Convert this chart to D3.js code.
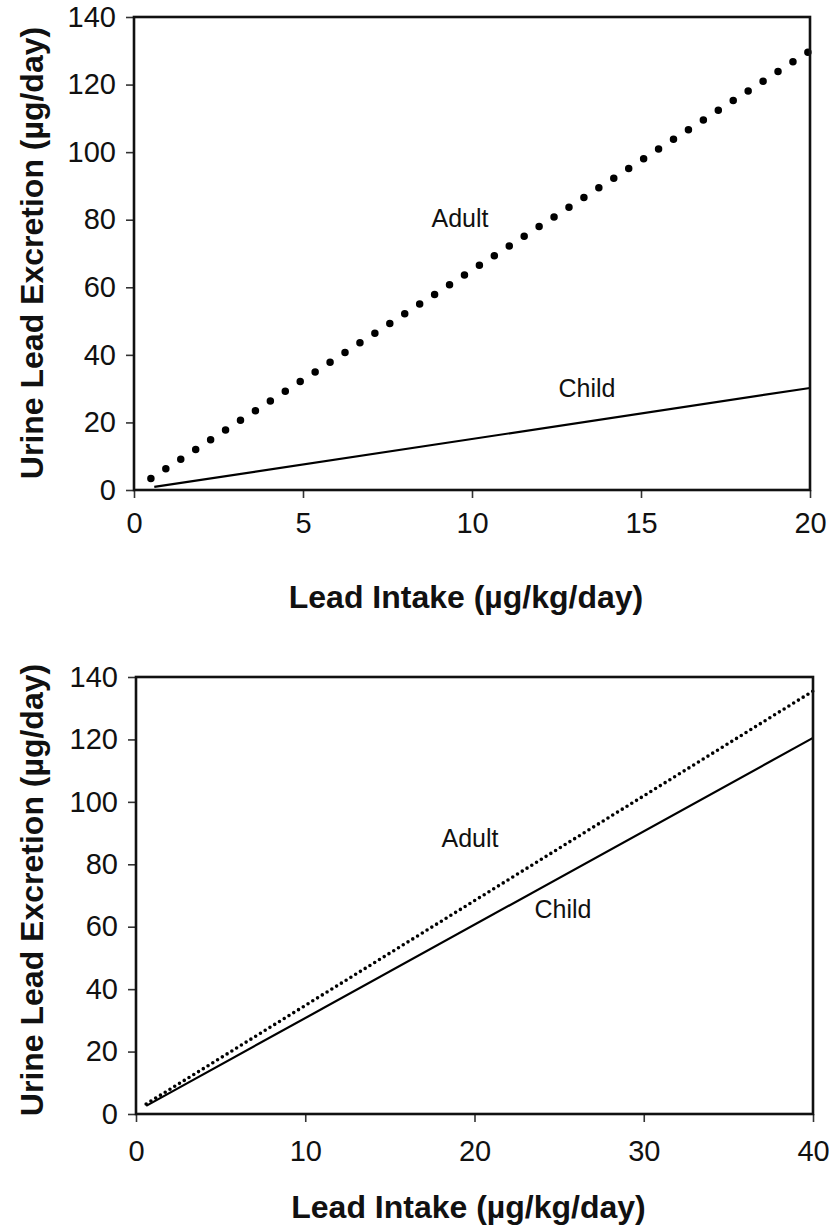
<!DOCTYPE html>
<html>
<head>
<meta charset="utf-8">
<script src="https://cdn.jsdelivr.net/npm/d3@7"></script>
<style>
  html, body { margin: 0; padding: 0; background: #ffffff; }
  svg { display: block; }
  text { font-family: "Liberation Sans", Arial, sans-serif; fill: #111; }
</style>
</head>
<body>
<script>
// ---------- data ----------
const xTitle = "Lead Intake (µg/kg/day)";
const yTitle = "Urine Lead Excretion (µg/day)";
const yTicks = [0, 20, 40, 60, 80, 100, 120, 140];

// top panel
const topXTicks = [0, 5, 10, 15, 20];
const topAdultIntake = [0.5, 20];
const topAdultUrine = [3.4, 130];
const topChildIntake = [0.6, 20];
const topChildUrine = [0.9, 30.2];

// bottom panel
const botXTicks = [0, 10, 20, 30, 40];
const botAdultIntake = [0.6, 40];
const botAdultUrine = [3.2, 135.5];
const botChildIntake = [0.6, 40];
const botChildUrine = [2.6, 120.5];

const labels = ["Adult", "Child"];

// ---------- drawing ----------
const W = 829, H = 1232;
const svg = d3.select("body").append("svg").attr("width", W).attr("height", H);
svg.append("rect").attr("width", W).attr("height", H).attr("fill", "#ffffff");

function panel(cfg) {
  const x = d3.scaleLinear().domain([0, d3.max(cfg.xTicks)]).range([cfg.left, cfg.right]);
  const y = d3.scaleLinear().domain([0, 140]).range([cfg.bottom, cfg.top]);
  const g = svg.append("g");

  // axes
  const ax = g.append("g").attr("transform", `translate(0,${cfg.bottom})`)
    .call(d3.axisBottom(x).tickValues(cfg.xTicks).tickSize(8).tickPadding(cfg.xPad).tickFormat(d3.format("d")));
  const ay = g.append("g").attr("transform", `translate(${cfg.left},0)`)
    .call(d3.axisLeft(y).tickValues(yTicks).tickSize(8).tickPadding(10).tickFormat(d3.format("d")));
  [ax, ay].forEach(a => {
    a.select(".domain").remove();
    a.selectAll(".tick line").attr("stroke", "#333").attr("stroke-width", 1.6);
    a.selectAll(".tick text").attr("font-size", 29).attr("fill", "#111")
      .style("font-family", '"Liberation Sans", Arial, sans-serif');
  });

  // lines
  const line = d3.line().x(d => x(d[0])).y(d => y(d[1]));
  const adult = d3.zip(cfg.adultX, cfg.adultY);
  const child = d3.zip(cfg.childX, cfg.childY);
  g.append("path").attr("d", line(child)).attr("fill", "none")
    .attr("stroke", "#000").attr("stroke-width", cfg.childW);
  g.append("path").attr("d", line(adult)).attr("fill", "none")
    .attr("stroke", "#000").attr("stroke-width", cfg.dotW)
    .attr("stroke-linecap", "round").attr("stroke-dasharray", `0,${cfg.dotGap}`);

  // frame
  g.append("rect").attr("x", cfg.left).attr("y", cfg.top)
    .attr("width", cfg.right - cfg.left).attr("height", cfg.bottom - cfg.top)
    .attr("fill", "none").attr("stroke", "#111").attr("stroke-width", 2.6);

  // annotations
  g.append("text").attr("x", cfg.adultLbl[0]).attr("y", cfg.adultLbl[1])
    .attr("text-anchor", "middle").attr("dy", "0.35em").attr("font-size", 25).text(labels[0]);
  g.append("text").attr("x", cfg.childLbl[0]).attr("y", cfg.childLbl[1])
    .attr("text-anchor", "middle").attr("dy", "0.35em").attr("font-size", 25).text(labels[1]);

  // titles
  g.append("text").attr("x", (cfg.left + cfg.right) / 2 - 6).attr("y", cfg.xTitleY)
    .attr("text-anchor", "middle").attr("dy", "0.35em")
    .attr("font-size", 32).attr("font-weight", "bold").text(xTitle);
  g.append("text")
    .attr("transform", `translate(${cfg.yTitleX},${cfg.yTitleMid}) rotate(-90)`)
    .attr("text-anchor", "middle").attr("dy", "0.35em")
    .attr("font-size", 32).attr("font-weight", "bold").text(yTitle);
}

panel({
  left: 134, right: 810, top: 17, bottom: 490,
  xTicks: topXTicks, xPad: 14,
  adultX: topAdultIntake, adultY: topAdultUrine,
  childX: topChildIntake, childY: topChildUrine,
  dotW: 7.5, dotGap: 17.8, childW: 2.2,
  adultLbl: [460, 218], childLbl: [587, 388],
  xTitleY: 597, yTitleX: 32, yTitleMid: 253
});

panel({
  left: 136, right: 813, top: 677, bottom: 1114,
  xTicks: botXTicks, xPad: 18,
  adultX: botAdultIntake, adultY: botAdultUrine,
  childX: botChildIntake, childY: botChildUrine,
  dotW: 3.6, dotGap: 5.6, childW: 2.2,
  adultLbl: [470, 838], childLbl: [563, 909],
  xTitleY: 1207, yTitleX: 32, yTitleMid: 890
});
</script>
</body>
</html>
